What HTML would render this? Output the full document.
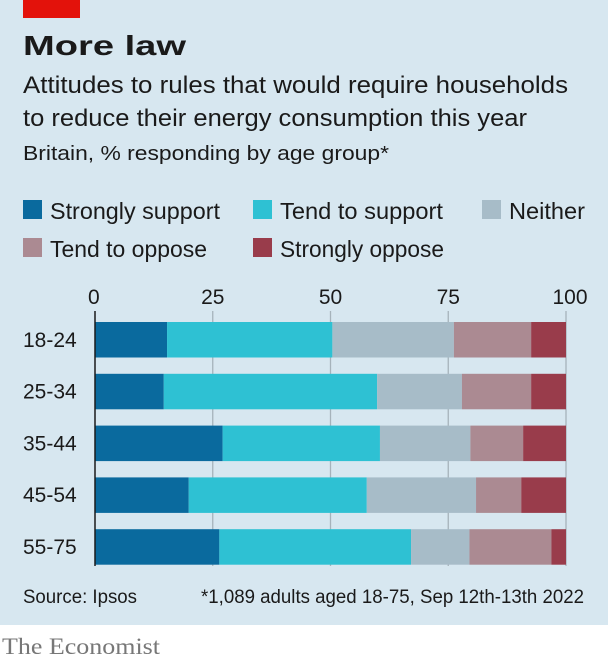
<!DOCTYPE html>
<html><head><meta charset="utf-8"><style>
html,body{margin:0;padding:0;background:#fff}
svg{display:block}
text{font-family:"Liberation Sans",sans-serif;fill:#1a1a1a}
</style></head><body>
<svg id="chart" width="608" height="662" viewBox="0 0 608 662" xmlns="http://www.w3.org/2000/svg">
<rect x="0" y="0" width="608" height="625" fill="#d7e7f0"/>
<rect x="23" y="0" width="57" height="18" fill="#e3120b"/>
<text x="23" y="55" font-size="28" font-weight="bold" textLength="163" lengthAdjust="spacingAndGlyphs">More law</text>
<text x="23" y="93" font-size="24" textLength="545" lengthAdjust="spacingAndGlyphs">Attitudes to rules that would require households</text>
<text x="23" y="126" font-size="24" textLength="504" lengthAdjust="spacingAndGlyphs">to reduce their energy consumption this year</text>
<text x="23" y="160" font-size="20" fill="#333" textLength="366" lengthAdjust="spacingAndGlyphs">Britain, % responding by age group*</text>
<g id="legend"></g>
<g id="grid"></g>
<g id="bars"></g>
<g id="ylabels"></g>
<line x1="95" y1="311" x2="95" y2="566" stroke="#1a1a1a" stroke-width="1.5"/>
<text x="23" y="603" font-size="19" fill="#444" textLength="114" lengthAdjust="spacingAndGlyphs">Source: Ipsos</text>
<text x="201" y="603" font-size="19" fill="#444" textLength="383" lengthAdjust="spacingAndGlyphs">*1,089 adults aged 18-75, Sep 12th-13th 2022</text>
<text x="2" y="654" font-size="23" style="font-family:'Liberation Serif',serif;fill:#777" textLength="158" lengthAdjust="spacingAndGlyphs">The Economist</text>
</svg>
<script>
const categories = ["18-24","25-34","35-44","45-54","55-75"];
const seriesNames = ["Strongly support","Tend to support","Neither","Tend to oppose","Strongly oppose"];
const strongSupport = [15.3,14.6,27.1,19.9,26.4];
const tendSupport = [35.1,45.3,33.4,37.8,40.7];
const neither = [25.8,18.0,19.2,23.2,12.4];
const tendOppose = [16.4,14.7,11.2,9.6,17.4];
const strongOppose = [7.4,7.4,9.1,9.5,3.1];
const ticks = [0,25,50,75,100];
const colors = ["#0a6a9e","#2ec1d3","#a7bcc8","#ab8a92","#993c4b"];
const series = [strongSupport,tendSupport,neither,tendOppose,strongOppose];
const NS="http://www.w3.org/2000/svg";
const x = v => 95 + v*4.71;
const y = i => 322 + i*51.8;
const bh = 35.5;
function mk(tag, attrs, parent){const e=document.createElementNS(NS,tag);for(const k in attrs)e.setAttribute(k,attrs[k]);parent.appendChild(e);return e;}
const grid=document.getElementById('grid');
ticks.forEach(t=>{
  if(t>0){const l=mk('line',{x1:x(t),x2:x(t),y1:311,y2:566,stroke:'#a6b3bb','stroke-width':1.3},grid);
  
  }
  const tx=mk('text',{x:x(t),y:304,'font-size':21,'text-anchor':'middle'},grid);
  if(t===0){tx.setAttribute('x', x(t)-7);tx.setAttribute('text-anchor','start');}
  if(t===100){tx.setAttribute('x', x(t)+4);}
  tx.textContent=t;
  
  
});
const bars=document.getElementById('bars');
categories.forEach((c,i)=>{
  let acc=0;
  series.forEach((s,j)=>{
    const r=mk('rect',{x:x(acc),y:y(i),width:x(acc+s[i])-x(acc),height:bh,fill:colors[j]},bars);
    
    
    acc+=s[i];
  });
  const t=mk('text',{x:23,y:y(i)+bh/2+7,'font-size':21},document.getElementById('ylabels'));
  t.textContent=c;
  
  
});
const legend=document.getElementById('legend');
const lpos=[[23,200],[253,200],[482,200],[23,238],[253,238]];
const lw=[170,163,76,157,164];
seriesNames.forEach((n,j)=>{
  const r=mk('rect',{x:lpos[j][0],y:lpos[j][1],width:19,height:19,fill:colors[j]},legend);
  
  
  const t=mk('text',{x:lpos[j][0]+27,y:lpos[j][1]+19,'font-size':23,textLength:lw[j],lengthAdjust:'spacingAndGlyphs'},legend);
  t.textContent=n;
  
  
});
</script>
</body></html>
